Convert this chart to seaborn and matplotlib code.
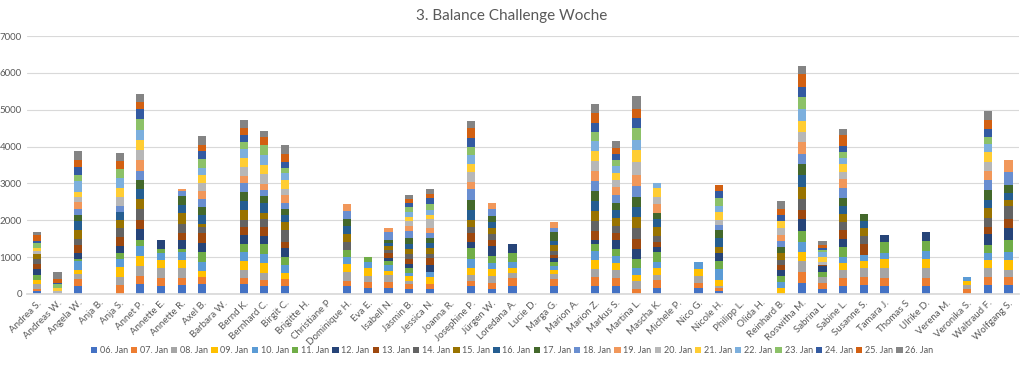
import numpy as np
import pandas as pd
import matplotlib
matplotlib.use("Agg")
import matplotlib.pyplot as plt
import seaborn as sns

names = ["Andrea S.", "Andreas W.", "Angela W.", "Anja B.", "Anja S.", "Annet P.",
         "Annette E.", "Annette R.", "Axel B.", "Barbara W.", "Bernd K.", "Bernhard C.",
         "Birgit C.", "Brigitte H.", "Christiane P", "Dominique H.", "Eva E.", "Isabell N.",
         "Jasmin B.", "Jessica N.", "Joanna R.", "Josephine P.", "Jürgen W.", "Loredana A.",
         "Lucie D.", "Marga G.", "Marion A.", "Marion Z.", "Markus S.", "Martina L.",
         "Mascha K.", "Michele P.", "Nico G.", "Nicole H.", "Philipp L.", "Olida H.",
         "Reinhard B.", "Roswitha M.", "Sabrina L.", "Sabine L.", "Susanne S.", "Tamara J.",
         "Thomas S", "Ulrike D.", "Verena M.", "Veronika S.", "Waltraud F.", "Wolfgang S."]

days = ["06. Jan", "07. Jan", "08. Jan", "09. Jan", "10. Jan", "11. Jan", "12. Jan",
        "13. Jan", "14. Jan", "15. Jan", "16. Jan", "17. Jan", "18. Jan", "19. Jan",
        "20. Jan", "21. Jan", "22. Jan", "23. Jan", "24. Jan", "25. Jan", "26. Jan"]

# one list per day, 48 values in the order of names
jan06 = [80, 0, 225, 0, 0, 270, 225, 240, 270, 0, 270, 225,
         225, 0, 0, 200, 170, 170, 125, 125, 0, 200, 125, 225,
         0, 225, 0, 225, 200, 0, 155, 0, 155, 90, 0, 0,
         0, 305, 125, 215, 245, 200, 0, 200, 0, 0, 245, 245]
jan07 = [45, 0, 170, 0, 245, 225, 215, 200, 200, 0, 155, 155,
         170, 0, 0, 135, 145, 160, 135, 135, 0, 155, 160, 200,
         0, 170, 0, 225, 225, 135, 225, 0, 135, 60, 0, 0,
         0, 300, 165, 225, 225, 225, 0, 225, 0, 135, 225, 225]
jan08 = [145, 0, 135, 0, 225, 260, 250, 250, 0, 0, 225, 180,
         0, 0, 0, 245, 180, 180, 100, 0, 0, 160, 200, 135,
         0, 150, 0, 215, 225, 215, 135, 0, 200, 65, 0, 0,
         0, 290, 155, 210, 245, 270, 0, 270, 0, 110, 225, 180]
jan09 = [110, 0, 120, 0, 250, 270, 225, 225, 160, 0, 245, 290,
         180, 0, 0, 225, 200, 115, 125, 200, 0, 180, 180, 155,
         0, 110, 0, 250, 200, 165, 180, 0, 180, 165, 0, 0,
         155, 250, 0, 180, 180, 245, 0, 245, 0, 110, 225, 270]
jan10 = [0, 0, 245, 0, 215, 280, 205, 225, 245, 0, 250, 235,
         210, 0, 0, 190, 160, 150, 70, 120, 0, 245, 180, 160,
         0, 100, 0, 250, 165, 180, 180, 0, 190, 290, 0, 0,
         155, 250, 0, 180, 165, 165, 0, 225, 0, 90, 180, 225]
jan11 = [135, 0, 60, 0, 165, 170, 110, 90, 250, 0, 210, 260,
         225, 0, 0, 200, 135, 115, 135, 0, 0, 300, 190, 225,
         0, 120, 0, 180, 210, 245, 250, 0, 0, 225, 0, 0,
         165, 305, 145, 270, 0, 290, 0, 270, 0, 0, 225, 315]
jan12 = [165, 0, 165, 0, 210, 280, 225, 225, 245, 0, 245, 225,
         225, 0, 0, 0, 0, 90, 110, 200, 0, 180, 260, 245,
         0, 100, 0, 125, 225, 270, 155, 0, 0, 210, 0, 0,
         180, 325, 155, 200, 0, 205, 0, 235, 0, 0, 290, 315]
jan13 = [125, 0, 200, 0, 245, 260, 0, 210, 270, 0, 210, 255,
         180, 0, 0, 0, 0, 125, 135, 180, 0, 225, 160, 0,
         0, 90, 0, 235, 215, 270, 135, 0, 0, 0, 0, 0,
         135, 245, 40, 250, 290, 0, 0, 0, 0, 0, 210, 270]
jan14 = [145, 0, 180, 0, 225, 300, 0, 240, 180, 0, 200, 200,
         315, 0, 0, 200, 0, 90, 135, 110, 0, 160, 180, 0,
         0, 100, 0, 270, 190, 300, 165, 0, 0, 0, 0, 0,
         135, 315, 0, 210, 225, 0, 0, 0, 0, 0, 225, 335]
jan15 = [135, 0, 225, 0, 225, 270, 0, 290, 80, 0, 270, 165,
         225, 0, 0, 240, 0, 115, 145, 180, 0, 200, 160, 0,
         0, 150, 0, 270, 215, 315, 245, 0, 0, 165, 0, 0,
         180, 315, 0, 215, 225, 0, 0, 0, 0, 0, 270, 180]
jan16 = [0, 0, 255, 0, 210, 270, 0, 225, 245, 0, 250, 270,
         180, 0, 0, 200, 0, 60, 135, 120, 0, 270, 155, 0,
         0, 120, 0, 290, 210, 270, 200, 0, 0, 245, 0, 0,
         0, 315, 0, 235, 190, 0, 0, 0, 0, 0, 225, 180]
jan17 = [0, 0, 155, 0, 0, 245, 0, 225, 225, 0, 245, 200,
         180, 0, 0, 200, 0, 100, 155, 160, 0, 270, 155, 0,
         0, 250, 0, 270, 200, 270, 165, 0, 0, 210, 0, 0,
         155, 315, 0, 215, 170, 0, 0, 0, 0, 0, 270, 210]
jan18 = [0, 0, 165, 0, 180, 250, 0, 135, 210, 0, 225, 165,
         155, 0, 0, 215, 0, 200, 200, 110, 0, 290, 190, 0,
         0, 110, 0, 270, 210, 290, 0, 0, 0, 135, 0, 0,
         165, 270, 0, 270, 0, 0, 0, 0, 0, 0, 270, 360]
jan19 = [0, 0, 200, 0, 0, 290, 0, 70, 215, 0, 210, 155,
         225, 0, 0, 200, 0, 110, 135, 160, 0, 205, 180, 0,
         0, 150, 0, 270, 225, 315, 250, 0, 0, 0, 0, 0,
         180, 335, 0, 250, 0, 0, 0, 0, 0, 0, 245, 335]
jan20 = [80, 80, 135, 0, 225, 270, 0, 0, 210, 0, 225, 280,
         165, 0, 0, 0, 0, 0, 135, 245, 0, 270, 0, 0,
         0, 0, 0, 270, 180, 345, 200, 0, 0, 155, 0, 0,
         180, 270, 90, 180, 0, 0, 0, 0, 0, 0, 255, 0]
jan21 = [90, 70, 120, 0, 245, 270, 0, 0, 225, 0, 245, 245,
         225, 0, 0, 0, 0, 0, 120, 90, 0, 205, 0, 0,
         0, 0, 0, 270, 200, 315, 225, 0, 0, 200, 0, 0,
         180, 300, 135, 225, 0, 0, 0, 0, 0, 0, 270, 0]
jan22 = [0, 0, 300, 0, 270, 270, 0, 0, 180, 0, 250, 270,
         200, 0, 0, 0, 0, 0, 135, 155, 0, 260, 0, 0,
         0, 0, 0, 270, 180, 270, 155, 0, 0, 180, 0, 0,
         0, 315, 120, 155, 0, 0, 0, 0, 0, 0, 225, 0]
jan23 = [115, 115, 180, 0, 245, 300, 0, 0, 250, 0, 200, 270,
         135, 0, 0, 0, 0, 0, 120, 145, 0, 225, 0, 0,
         0, 0, 0, 250, 165, 335, 0, 0, 0, 210, 0, 0,
         0, 315, 60, 165, 0, 0, 0, 0, 0, 0, 180, 0]
jan24 = [70, 35, 200, 0, 0, 270, 0, 0, 215, 0, 180, 0,
         165, 0, 0, 0, 0, 0, 125, 155, 0, 235, 0, 0,
         0, 0, 0, 245, 165, 270, 0, 0, 0, 180, 0, 0,
         165, 270, 60, 165, 0, 0, 0, 0, 0, 0, 210, 0]
jan25 = [155, 115, 190, 0, 235, 180, 0, 0, 180, 0, 200, 225,
         225, 0, 0, 0, 0, 0, 100, 120, 0, 270, 0, 0,
         0, 0, 0, 270, 155, 250, 0, 0, 0, 180, 0, 0,
         180, 360, 80, 290, 0, 0, 0, 0, 0, 0, 245, 0]
jan26 = [90, 165, 260, 0, 200, 225, 0, 0, 235, 0, 200, 155,
         225, 0, 0, 0, 0, 0, 110, 145, 0, 200, 0, 0,
         0, 0, 0, 250, 200, 345, 0, 0, 0, 0, 0, 0,
         215, 225, 110, 165, 0, 0, 0, 0, 0, 0, 245, 0]

colors = ["#4472C4", "#ED7D31", "#A5A5A5", "#FFC000", "#5B9BD5", "#70AD47", "#264478",
          "#9E480E", "#636363", "#997300", "#255E91", "#43682B", "#698ED0", "#F1975A",
          "#B7B7B7", "#FFCD33", "#7CAFDD", "#8CC168", "#335AA1", "#D26012", "#848484"]

series = [jan06, jan07, jan08, jan09, jan10, jan11, jan12, jan13, jan14, jan15, jan16,
          jan17, jan18, jan19, jan20, jan21, jan22, jan23, jan24, jan25, jan26]
daily = pd.DataFrame({"Name": names})
for day, vals in zip(days, series):
    daily[day] = vals

sns.set_theme(style="white")
plt.rcParams["font.family"] = ["Lato", "DejaVu Sans"]

fig, ax = plt.subplots(figsize=(10.24, 3.65), dpi=100)
fig.subplots_adjust(left=0.026, right=0.995, bottom=0.195, top=0.901)

bottom = np.zeros(len(names))
for day, col in zip(days, colors):
    sns.barplot(data=daily, x="Name", y=day, order=names, color=col, width=0.4,
                saturation=1, errorbar=None, bottom=bottom.copy(), label=day,
                linewidth=0, ax=ax)
    bottom += daily[day].to_numpy()

if ax.get_legend() is not None:
    ax.get_legend().remove()

ax.set_xlim(-0.5, len(names) - 0.5)
ax.set_ylim(0, 7000)
ax.set_yticks(range(0, 7001, 1000))
ax.set_xlabel("")
ax.set_ylabel("")
ax.yaxis.grid(True, color="#D9D9D9", lw=0.8)
ax.set_axisbelow(True)
for s in ["top", "right", "left"]:
    ax.spines[s].set_visible(False)
ax.spines["bottom"].set_color("#D9D9D9")
ax.tick_params(length=0, labelsize=7, colors="#595959")
plt.setp(ax.get_xticklabels(), rotation=45, ha="right", rotation_mode="anchor")

handles, labels = ax.get_legend_handles_labels()
fig.legend(handles, labels, loc="lower center", bbox_to_anchor=(0.5, 0.005), ncol=21,
           frameon=False, fontsize=6.5, handlelength=0.7, handleheight=0.7,
           handletextpad=0.3, columnspacing=0.35, labelcolor="#595959")

fig.suptitle("3. Balance Challenge Woche", y=0.975, fontsize=11, color="#595959")

fig.savefig("out.png", dpi=100)
